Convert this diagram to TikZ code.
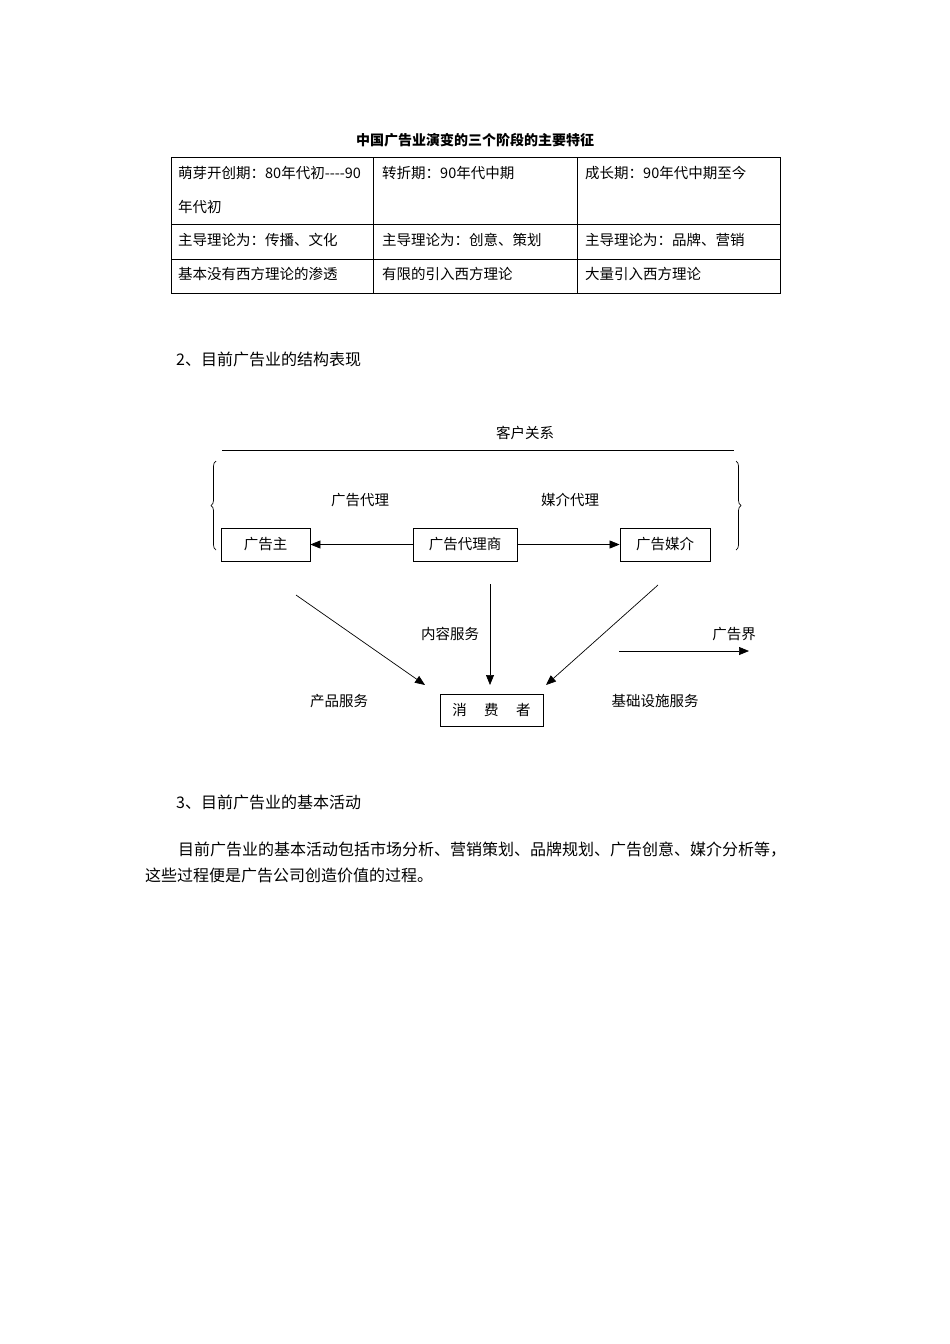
\documentclass[tikz,border=0pt]{standalone}
\usepackage{fontspec}
\setmainfont{Noto Sans CJK SC}
\usetikzlibrary{arrows.meta,decorations.pathreplacing}
\tikzset{
 box/.style={draw,line width=0.8pt,minimum height=33pt,inner sep=0pt,font=\fontsize{14.5}{14.5}\selectfont},
 lbl/.style={inner sep=0pt,font=\fontsize{14.5}{14.5}\selectfont},
 para/.style={inner sep=0pt,font=\fontsize{16}{16}\selectfont},
 arr/.style={line width=0.7pt,-{Triangle[length=10pt,width=8pt]}},
 cell/.style={anchor=north west,inner sep=0pt,font=\fontsize{14.5}{14.5}\selectfont}
}
\begin{document}
\begin{tikzpicture}[x=1pt,y=-1pt]
\useasboundingbox (0,0) rectangle (950,1344);
% table
\node[lbl,font=\bfseries\fontsize{14}{14}\selectfont] (title) at (475,140) {中国广告业演变的三个阶段的主要特征};
\draw[line width=0.8pt] (171,157) rectangle (780,293);
\draw[line width=0.8pt] (171,224) -- (780,224) (171,259) -- (780,259) (373,157) -- (373,293) (577,157) -- (577,293);
\node[cell] (c11) at (178,166) {萌芽开创期：80年代初{-}{-}{-}{-}90};
\node[cell] (c11b) at (178,200) {年代初};
\node[cell] (c12) at (382,166) {转折期：90年代中期};
\node[cell] (c13) at (585,166) {成长期：90年代中期至今};
\node[cell] (c21) at (178,233) {主导理论为：传播、文化};
\node[cell] (c22) at (382,233) {主导理论为：创意、策划};
\node[cell] (c23) at (585,233) {主导理论为：品牌、营销};
\node[cell] (c31) at (178,267) {基本没有西方理论的渗透};
\node[cell] (c32) at (382,267) {有限的引入西方理论};
\node[cell] (c33) at (585,267) {大量引入西方理论};
\node[para,anchor=west] (h2) at (176,359) {2、目前广告业的结构表现};
% diagram
\node[lbl] (kh) at (525,433) {客户关系};
\draw[line width=0.8pt] (222,450) -- (734,450);
\draw[line width=0.7pt,decorate,decoration={brace,amplitude=5pt}] (216,550) -- (216,461);
\draw[line width=0.7pt,decorate,decoration={brace,amplitude=5pt}] (736,461) -- (736,550);
\node[lbl] (gd) at (360,500) {广告代理};
\node[lbl] (md) at (570,500) {媒介代理};
\node[box,minimum width=89pt] (zhu) at (265.5,544.5) {广告主};
\node[box,minimum width=104pt] (dls) at (465,544.5) {广告代理商};
\node[box,minimum width=90pt] (mj) at (665,544.5) {广告媒介};
\draw[arr] (dls) -- (zhu);
\draw[arr] (dls) -- (mj);
\node[box,minimum width=103pt,minimum height=32pt] (xf) at (491.5,710) {消\hspace{1.2em}费\hspace{1.2em}者};
\coordinate (s1) at (296,595);
\coordinate (s2) at (490,584);
\coordinate (s3) at (658,585);
\coordinate (e1) at (425,685);
\coordinate (e2) at (490,685);
\coordinate (e3) at (546,685);
\draw[arr] (s1) -- (e1);
\draw[arr] (s2) -- (e2);
\draw[arr] (s3) -- (e3);
\node[lbl] (nr) at (450,634) {内容服务};
\node[lbl] (cp) at (339,701) {产品服务};
\node[lbl] (jc) at (655,701) {基础设施服务};
\node[lbl] (gj) at (734,634) {广告界};
\coordinate (g1) at (619,651);
\coordinate (g2) at (749,651);
\draw[arr] (g1) -- (g2);
% text
\node[para,anchor=west] (h3) at (176,802) {3、目前广告业的基本活动};
\node[para,anchor=west] (p1) at (178,850) {目前广告业的基本活动包括市场分析、营销策划、品牌规划、广告创意、媒介分析等，};
\node[para,anchor=west] (p2) at (145,875) {这些过程便是广告公司创造价值的过程。};
\end{tikzpicture}
\end{document}
